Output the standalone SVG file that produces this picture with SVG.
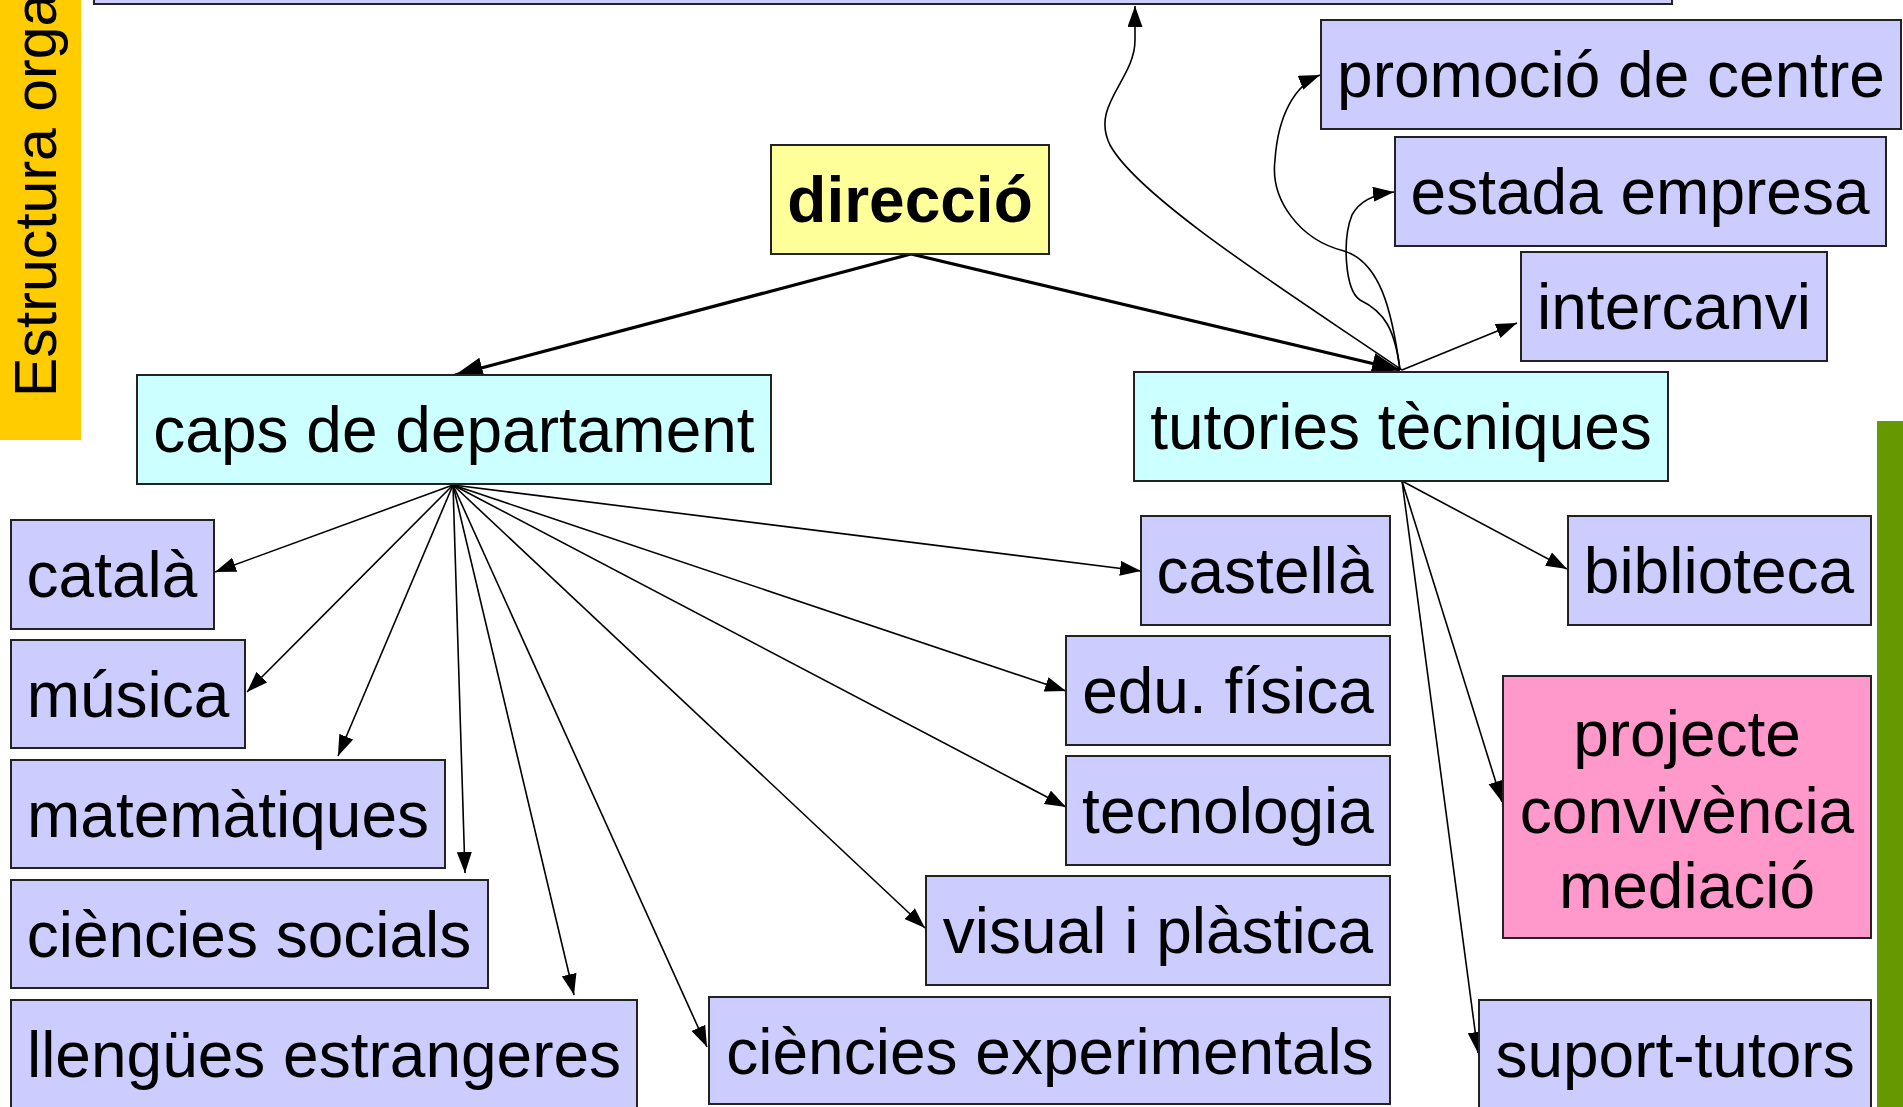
<svg xmlns="http://www.w3.org/2000/svg" width="1903" height="1107" viewBox="0 0 1903 1107">
<style>
.n rect{stroke:#222;stroke-width:2}
.l{fill:#ccccff}
.c{fill:#ccffff}
.y{fill:#ffff99}
.p{fill:#ff99cc}
text{font-family:"Liberation Sans",Arial,sans-serif;font-size:64px;fill:#000;text-anchor:middle}
.thin{fill:none;stroke:#000;stroke-width:1.6;marker-end:url(#a)}
.thick{fill:none;stroke:#000;stroke-width:3.2;marker-end:url(#b)}
</style>
<defs>
<marker id="a" markerUnits="userSpaceOnUse" markerWidth="22" markerHeight="16" refX="21" refY="7.5" orient="auto"><path d="M0,0 L21,7.5 L0,15 z" fill="#000"/></marker>
<marker id="b" markerUnits="userSpaceOnUse" markerWidth="30" markerHeight="22" refX="28" refY="10.5" orient="auto"><path d="M0,0 L28,10.5 L0,21 z" fill="#000"/></marker>
</defs>
<rect width="1903" height="1107" fill="#fff"/>
<g id="side-left"><rect x="0" y="0" width="81" height="440" fill="#ffcc00"/><text transform="translate(56,397) rotate(-90)" style="text-anchor:start;font-size:59px">Estructura orga</text></g>
<g id="side-right"><rect x="1877" y="421" width="26" height="686" fill="#669900"/></g>
<g id="top" class="n"><rect class="l" x="94" y="-60" width="1578" height="64"/></g>
<g id="connectors">
<path class="thick" d="M911,254 L455,375"/>
<path class="thick" d="M911,254 L1400,370"/>
<path class="thin" d="M1402,370 C1300,300 1140,200 1110,145 C1090,105 1135,80 1135,40 L1135,6"/>
<path class="thin" d="M1400,370 C1392,310 1380,262 1344,251 C1300,240 1270,200 1275,160 C1278,115 1295,85 1320,75"/>
<path class="thin" d="M1400,370 C1395,330 1385,312 1360,300 C1345,290 1342,240 1352,215 C1360,200 1375,194 1394,192"/>
<path class="thin" d="M1402,370 L1517,323"/>
<path class="thin" d="M1402,481 L1567,569"/>
<path class="thin" d="M1402,481 L1502,802"/>
<path class="thin" d="M1402,481 L1478,1053"/>
<path class="thin" d="M453,485 L215,572"/>
<path class="thin" d="M453,485 L247,692"/>
<path class="thin" d="M453,485 L338,756"/>
<path class="thin" d="M453,485 L465,873"/>
<path class="thin" d="M453,485 L574,995"/>
<path class="thin" d="M453,485 L707,1047"/>
<path class="thin" d="M453,485 L925,928"/>
<path class="thin" d="M453,485 L1066,807"/>
<path class="thin" d="M453,485 L1066,691"/>
<path class="thin" d="M453,485 L1141,571"/>
</g>
<g id="direccio" class="n"><rect class="y" x="771" y="145" width="278" height="109"/><text x="910" y="222" style="font-weight:bold">direcció</text></g>
<g id="caps" class="n"><rect class="c" x="137" y="375" width="634" height="109"/><text x="454" y="452">caps de departament</text></g>
<g id="tutories" class="n"><rect class="c" x="1134" y="372" width="534" height="109"/><text x="1401" y="449">tutories tècniques</text></g>
<g id="promocio" class="n"><rect class="l" x="1321" y="20" width="580" height="109"/><text x="1611" y="97">promoció de centre</text></g>
<g id="estada" class="n"><rect class="l" x="1395" y="137" width="491" height="109"/><text x="1640" y="214">estada empresa</text></g>
<g id="intercanvi" class="n"><rect class="l" x="1521" y="252" width="306" height="109"/><text x="1674" y="329">intercanvi</text></g>
<g id="biblioteca" class="n"><rect class="l" x="1568" y="516" width="303" height="109"/><text x="1719" y="593">biblioteca</text></g>
<g id="projecte" class="n"><rect class="p" x="1503" y="676" width="368" height="262"/><text x="1687" y="756">projecte</text><text x="1687" y="833">convivència</text><text x="1687" y="908">mediació</text></g>
<g id="suport" class="n"><rect class="l" x="1479" y="1000" width="392" height="120"/><text x="1675" y="1077">suport-tutors</text></g>
<g id="catala" class="n"><rect class="l" x="11" y="520" width="203" height="109"/><text x="112" y="597">català</text></g>
<g id="musica" class="n"><rect class="l" x="11" y="640" width="234" height="108"/><text x="128" y="717">música</text></g>
<g id="matematiques" class="n"><rect class="l" x="11" y="760" width="434" height="108"/><text x="228" y="837">matemàtiques</text></g>
<g id="socials" class="n"><rect class="l" x="11" y="880" width="477" height="108"/><text x="249" y="957">ciències socials</text></g>
<g id="llengues" class="n"><rect class="l" x="11" y="1000" width="626" height="120"/><text x="324" y="1077">llengües estrangeres</text></g>
<g id="castella" class="n"><rect class="l" x="1141" y="516" width="249" height="109"/><text x="1265" y="593">castellà</text></g>
<g id="edufisica" class="n"><rect class="l" x="1066" y="636" width="324" height="109"/><text x="1228" y="713">edu. física</text></g>
<g id="tecnologia" class="n"><rect class="l" x="1066" y="756" width="324" height="109"/><text x="1228" y="833">tecnologia</text></g>
<g id="visual" class="n"><rect class="l" x="926" y="876" width="464" height="109"/><text x="1158" y="953">visual i plàstica</text></g>
<g id="experimentals" class="n"><rect class="l" x="709" y="997" width="681" height="107"/><text x="1050" y="1074">ciències experimentals</text></g>
</svg>
